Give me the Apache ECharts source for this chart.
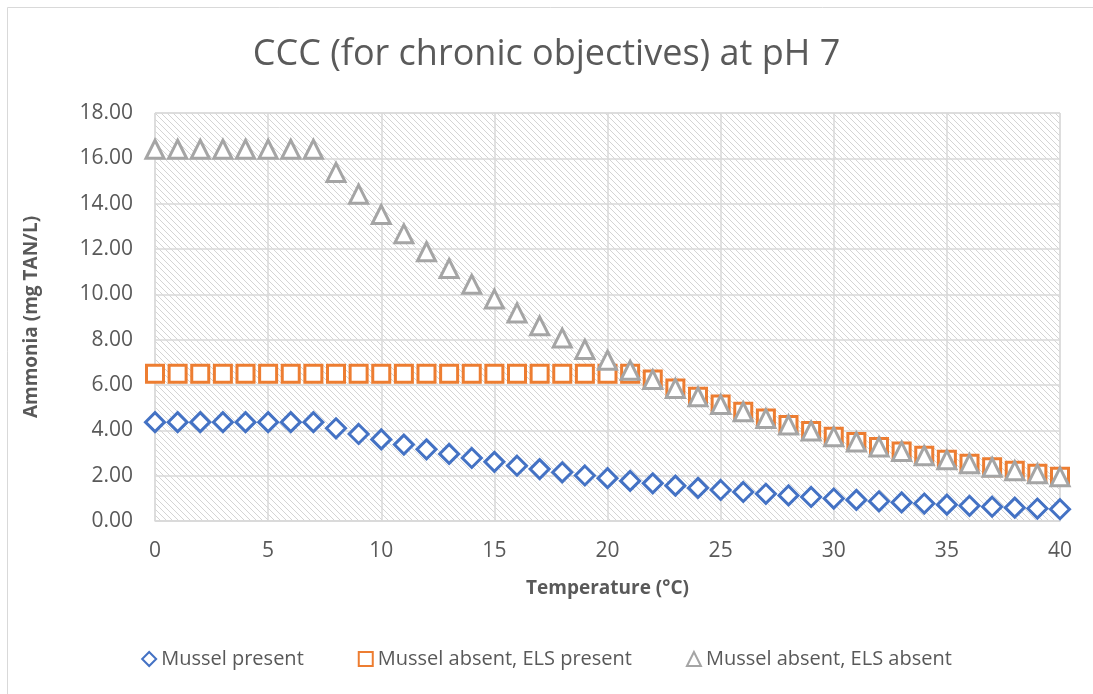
<!DOCTYPE html>
<html>
<head>
<meta charset="utf-8">
<script src="https://cdn.jsdelivr.net/npm/echarts@6/dist/echarts.min.js"></script>
<style>
html,body{margin:0;padding:0;background:#fff;}
#chart{width:1093px;height:694px;}
</style>
</head>
<body>
<div id="chart"></div>
<script>
const temperatures = [0,1,2,3,4,5,6,7,8,9,10,11,12,13,14,15,16,17,18,19,20,21,22,23,24,25,26,27,28,29,30,31,32,33,34,35,36,37,38,39,40];
const musselPresent = [4.36,4.36,4.36,4.36,4.36,4.36,4.36,4.36,4.09,3.84,3.60,3.37,3.16,2.96,2.78,2.61,2.44,2.29,2.15,2.01,1.89,1.77,1.66,1.56,1.46,1.37,1.28,1.20,1.13,1.06,0.99,0.93,0.87,0.82,0.77,0.72,0.67,0.63,0.59,0.55,0.52];
const musselAbsentELSPresent = [6.50,6.50,6.50,6.50,6.50,6.50,6.50,6.50,6.50,6.50,6.50,6.50,6.50,6.50,6.50,6.50,6.50,6.50,6.50,6.50,6.50,6.50,6.24,5.85,5.48,5.14,4.82,4.52,4.24,3.97,3.72,3.49,3.27,3.07,2.88,2.70,2.53,2.37,2.22,2.08,1.95];
const musselAbsentELSAbsent = [16.40,16.40,16.40,16.40,16.40,16.40,16.40,16.40,15.38,14.42,13.52,12.67,11.88,11.14,10.44,9.79,9.18,8.61,8.07,7.57,7.09,6.65,6.24,5.85,5.48,5.14,4.82,4.52,4.24,3.97,3.72,3.49,3.27,3.07,2.88,2.70,2.53,2.37,2.22,2.08,1.95];
const seriesNames = ['Mussel present','Mussel absent, ELS present','Mussel absent, ELS absent'];

function pair(vals){ return temperatures.map((t,i)=>[t, vals[i]]); }

// hatch pattern
const pc = document.createElement('canvas');
pc.width = 6; pc.height = 6;
const ctx = pc.getContext('2d');
ctx.fillStyle = '#ffffff'; ctx.fillRect(0,0,6,6);
ctx.strokeStyle = '#d4d4d4'; ctx.lineWidth = 1;
ctx.beginPath();
ctx.moveTo(-1,-1); ctx.lineTo(7,7);
ctx.moveTo(-7,-1); ctx.lineTo(1,7);
ctx.moveTo(5,-1); ctx.lineTo(13,7);
ctx.stroke();

const chart = echarts.init(document.getElementById('chart'), null, {renderer:'canvas'});
const font = '"Open Sans", "Noto Sans", sans-serif';
const txt = '#595959';
function sc(name, data, symbol, color, size){
  return {
    name, type:'scatter', data: pair(data), symbol, symbolSize: size,
    itemStyle:{color:'#ffffff', borderColor:color, borderWidth:3, opacity:1},
    emphasis:{disabled:true}
  };
}
chart.setOption({
  animation:false,
  backgroundColor:'#ffffff',
  textStyle:{fontFamily:font},
  graphic:[{type:'rect', shape:{x:7.5,y:7.5,width:1200,height:800}, style:{fill:'none', stroke:'#d9d9d9', lineWidth:1}, silent:true}],
  title:{text:'CCC (for chronic objectives) at pH 7', left:'center', top:32,
    textStyle:{fontFamily:font, fontSize:36, fontWeight:'normal', color:'#5a5a5a'}},
  legend:{bottom:20, left:'center', itemGap:54, itemWidth:14, itemHeight:14,
    textStyle:{fontFamily:font, fontSize:20, color:txt},
    data:[{name:seriesNames[0], icon:'diamond'},{name:seriesNames[1], icon:'rect'},{name:seriesNames[2], icon:'triangle'}]},
  grid:{left:155, right:33, top:113, bottom:173, show:true,
    backgroundColor:{image:pc, repeat:'repeat'}, borderColor:'#d9d9d9', borderWidth:1},
  xAxis:{type:'value', min:0, max:40, interval:5,
    name:'Temperature (°C)', nameLocation:'middle', nameGap:58,
    nameTextStyle:{fontFamily:font, fontSize:19, fontWeight:'bold', color:txt},
    axisLine:{show:true, lineStyle:{color:'#d9d9d9', width:1.5}},
    axisTick:{show:false},
    axisLabel:{fontFamily:font, fontSize:21, color:txt, margin:20},
    splitLine:{show:true, lineStyle:{color:'#d9d9d9', width:1.5}}},
  yAxis:{type:'value', min:0, max:18, interval:2,
    name:'Ammonia (mg TAN/L)', nameLocation:'middle', nameGap:114, nameRotate:90,
    nameTextStyle:{fontFamily:font, fontSize:19, fontWeight:'bold', color:txt},
    axisLine:{show:false}, axisTick:{show:false},
    axisLabel:{fontFamily:font, fontSize:21, color:txt, margin:22, formatter:v=>v.toFixed(2)},
    splitLine:{show:true, lineStyle:{color:'#d9d9d9', width:1.5}}},
  series:[
    sc(seriesNames[0], musselPresent, 'diamond', '#4472C4', 19),
    sc(seriesNames[1], musselAbsentELSPresent, 'rect', '#ED7D31', 17),
    sc(seriesNames[2], musselAbsentELSAbsent, 'triangle', '#A5A5A5', 18)
  ]
});
</script>
</body>
</html>
